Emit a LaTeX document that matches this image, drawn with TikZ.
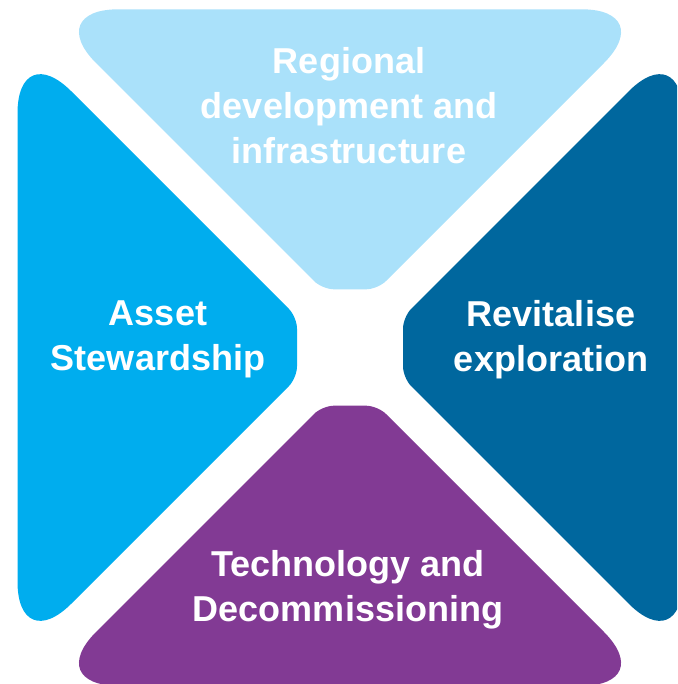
\documentclass[tikz,border=0pt]{standalone}
\usepackage{fontspec}
\setmainfont{Liberation Sans}
\definecolor{lightsky}{RGB}{170,225,250}
\definecolor{assetblue}{RGB}{0,173,238}
\definecolor{deepblue}{RGB}{0,103,158}
\definecolor{techpurple}{RGB}{130,58,148}
\tikzstyle{wide}=[rounded corners=38pt]
\tikzstyle{blunt}=[rounded corners=5.8pt]
\tikzstyle{lbl}=[text=white,
	         font=\bfseries\fontsize{18}{22.5}\selectfont,
	         align=center,
	         inner sep=0pt]

\begin{document}
\begin{tikzpicture}[x=0.5pt,y=-0.5pt]

% picture frame, the quarters run out past it
\useasboundingbox (0,0) rectangle (677,684);
\clip (0,0) rectangle (677,684);

% four quarters round the white cross in the middle,
% each path starts halfway along its outer side
\fill[lightsky] (350,9.3) [wide] -- (657.7,9.3) [blunt] -- (377.7,289.3) -- (322.3,289.3)
  [wide] -- (42.3,9.3) -- cycle;
\fill[assetblue] (17.5,347.5) [wide] -- (17.5,37.5) [blunt] -- (297,317) -- (297,378)
  [wide] -- (17.5,657.5) -- cycle;
\fill[deepblue] (682.5,347.5) [wide] -- (682.5,657.5) [blunt] -- (403,378) -- (403,317)
  [wide] -- (682.5,37.5) -- cycle;
\fill[techpurple] (350,685.7) [wide] -- (42.3,685.7) [blunt] -- (322.3,405.7) -- (377.7,405.7)
  [wide] -- (657.7,685.7) -- cycle;

% labels on the quarters
\node[lbl] (regional) at (349,106) {Regional\\development and\\infrastructure};
\node[lbl] (asset) at (158,339) {Asset\\Stewardship};
\node[lbl] (revit) at (551,340) {Revitalise\\exploration};
\node[lbl] (techno) at (348,590) {Technology and\\Decommissioning};

\end{tikzpicture}
\end{document}
